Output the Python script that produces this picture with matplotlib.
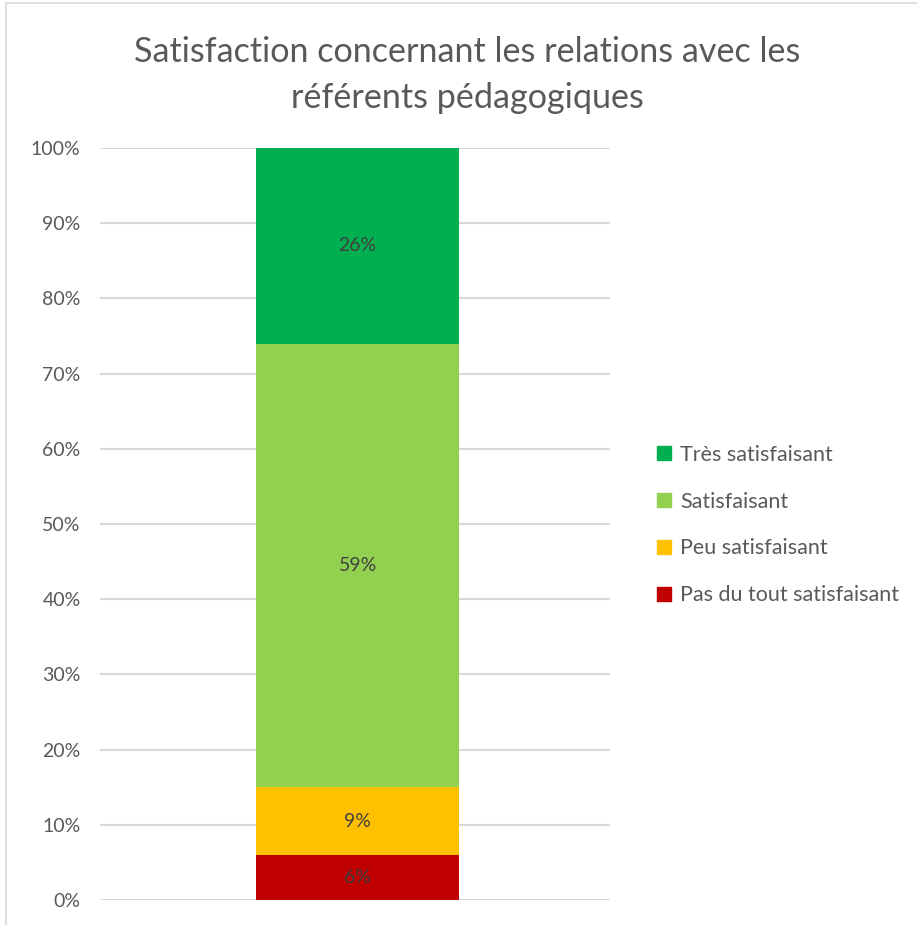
import matplotlib.pyplot as plt
import matplotlib.patches as mpatches
from matplotlib.lines import Line2D

plt.rcParams['font.family'] = ['Lato', 'DejaVu Sans']

# data
categories = ['Pas du tout satisfaisant', 'Peu satisfaisant', 'Satisfaisant', 'Très satisfaisant']
values = [6, 9, 59, 26]
colors = ['#C00000', '#FFC000', '#92D050', '#00B050']
yticks = [0, 10, 20, 30, 40, 50, 60, 70, 80, 90, 100]

fig = plt.figure(figsize=(9.17, 9.25), dpi=100)

# thin border of the chart area (cropped at right and bottom)
fig.add_artist(Line2D([6/917, 1], [1-3/925, 1-3/925], transform=fig.transFigure, color='#D9D9D9', lw=1.2))
fig.add_artist(Line2D([6/917, 6/917], [0, 1-3/925], transform=fig.transFigure, color='#D9D9D9', lw=1.2))

ax = fig.add_axes([100/917, 1-900/925, 510/917, (900-148)/925])

bottom = 0
for cat, v, c in zip(categories, values, colors):
    ax.bar(0.005, v, width=0.398, bottom=bottom, color=c, zorder=3, label=cat)
    ax.text(0.005, bottom + v/2, f'{v}%', ha='center', va='center', fontsize=14, color='#404040', zorder=4)
    bottom += v

ax.set_xlim(-0.5, 0.5)
ax.set_ylim(0, 100)
ax.set_yticks(yticks)
ax.set_yticklabels([f'{t}%' for t in yticks], fontsize=14, color='#595959')
ax.set_xticks([])
ax.tick_params(axis='y', length=0, pad=14)
ax.grid(axis='y', color='#D9D9D9', lw=1.5, zorder=0)
for s in ax.spines.values():
    s.set_visible(False)

fig.text(467/917, 1-75/925, 'Satisfaction concernant les relations avec les\nréférents pédagogiques',
         ha='center', va='center', fontsize=24.6, color='#595959', linespacing=1.5)

handles = [mpatches.Patch(color=c, label=cat) for cat, c in zip(categories, colors)][::-1]
fig.legend(handles=handles, loc='center left', bbox_to_anchor=(638/917, 1-525/925), frameon=False,
           fontsize=15.5, labelcolor='#595959', handlelength=0.65, handleheight=0.65,
           handletextpad=0.4, labelspacing=1.25)

fig.savefig('out.png', dpi=100)
